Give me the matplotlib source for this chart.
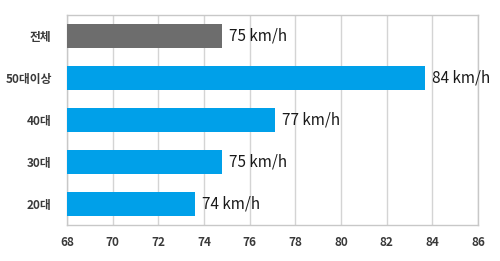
import matplotlib.pyplot as plt

plt.rcParams['font.family'] = ['Noto Sans CJK KR', 'DejaVu Sans']

groups = ['전체', '50대이상', '40대', '30대', '20대']
speeds = [74.8, 83.7, 77.1, 74.8, 73.6]
labels = ['75 km/h', '84 km/h', '77 km/h', '75 km/h', '74 km/h']
colors = ['#6d6d6d', '#00a0e9', '#00a0e9', '#00a0e9', '#00a0e9']

fig = plt.figure(figsize=(5.0, 2.61), dpi=100)
ax = fig.add_axes([0.134, 0.138, 0.822, 0.805])

ypos = list(range(len(groups)))[::-1]
ax.barh(ypos, [s - 68 for s in speeds], left=68, height=0.57, color=colors, zorder=3)

for y, s, t in zip(ypos, speeds, labels):
    ax.text(s + 0.3, y, t, va='center', ha='left', fontsize=11, color='#1a1a1a', zorder=4)

ax.set_xlim(68, 86)
ax.set_ylim(-0.5, len(groups) - 0.5)
ax.set_xticks(range(68, 87, 2))
ax.set_yticks(ypos)
ax.set_yticklabels(groups)
ax.tick_params(axis='both', length=0, labelsize=8.5, colors='#3a3a3a')
ax.tick_params(axis='x', pad=8)
ax.tick_params(axis='y', pad=11)
for lab in ax.get_xticklabels() + ax.get_yticklabels():
    lab.set_fontweight('bold')

ax.grid(axis='x', color='#d4d4d4', linewidth=1, zorder=0)
for sp in ax.spines.values():
    sp.set_color('#c8c8c8')
    sp.set_linewidth(1)

fig.savefig('out.png', dpi=100)
